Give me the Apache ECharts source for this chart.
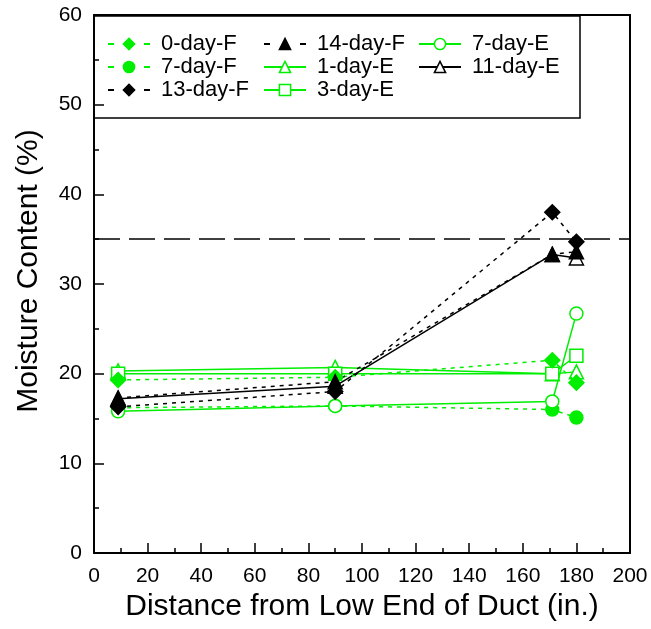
<!DOCTYPE html>
<html>
<head>
<meta charset="utf-8">
<script src="https://cdn.jsdelivr.net/npm/echarts@6/dist/echarts.min.js"></script>
<style>
  html, body { margin: 0; padding: 0; background: #fff; }
  #chart { width: 651px; height: 629px; }
</style>
</head>
<body>
<div id="chart"></div>
<script>
// Sampling positions along the duct (in.)
const distances = [9, 90, 171, 180];

// Moisture content (%) at each position
const day0F  = [19.3, 19.6, 21.5, 19.0];
const day7F  = [16.2, 16.4, 16.0, 15.1];
const day13F = [16.3, 18.0, 38.0, 34.7];
const day14F = [17.3, 19.1, 33.3, 33.6];
const day1E  = [20.3, 20.7, 20.0, 20.2];
const day3E  = [20.0, 20.0, 20.0, 22.0];
const day7E  = [15.8, 16.4, 16.9, 26.7];
const day11E = [17.2, 18.6, 33.3, 32.9];

const thresholdValue = 35;

const GREEN = '#00ee00';
const BLACK = '#000000';
const FONT = 'Liberation Sans, Arial, sans-serif';

function pairs(values) {
  return distances.map((d, i) => [d, values[i]]);
}

function makeSeries(name, values, color, symbol, filled, dashed, size, z) {
  return {
    name: name,
    type: 'line',
    data: pairs(values),
    symbol: symbol,
    symbolSize: size,
    showAllSymbol: true,
    z: z,
    lineStyle: { color: color, width: 1.5, type: dashed ? [4, 5] : 'solid' },
    itemStyle: {
      color: filled ? color : '#ffffff',
      borderColor: color,
      borderWidth: 1.5,
      opacity: 1
    },
    emphasis: { disabled: true },
    animation: false
  };
}

const series = [
  makeSeries('0-day-F', day0F, GREEN, 'diamond', true, true, 15, 4),
  makeSeries('7-day-F', day7F, GREEN, 'circle', true, true, 13, 3),
  makeSeries('13-day-F', day13F, BLACK, 'diamond', true, true, 15, 4),
  makeSeries('14-day-F', day14F, BLACK, 'triangle', true, true, 14, 4),
  makeSeries('1-day-E', day1E, GREEN, 'triangle', false, false, 14, 3),
  makeSeries('3-day-E', day3E, GREEN, 'rect', false, false, 13, 3),
  makeSeries('7-day-E', day7E, GREEN, 'circle', false, false, 13, 3),
  makeSeries('11-day-E', day11E, BLACK, 'triangle', false, false, 14, 3)
];

// Long-dash reference level
series.push({
  name: 'threshold',
  type: 'line',
  data: [],
  silent: true,
  animation: false,
  markLine: {
    silent: true,
    symbol: ['none', 'none'],
    label: { show: false },
    lineStyle: { color: BLACK, width: 1.5, type: [26, 9] },
    data: [{ yAxis: thresholdValue }]
  }
});

// Field (F) entries show a short dash either side of the marker in the key
function legendEntry(name) {
  const dashed = /-F$/.test(name);
  return dashed ? { name: name, lineStyle: { type: [6, 30] } } : { name: name };
}

function legendBlock(names, left) {
  return {
    data: names.map(legendEntry),
    orient: 'vertical',
    left: left,
    top: 28,
    itemWidth: 42,
    itemHeight: 14,
    itemGap: 1,
    itemStyle: { borderWidth: 1.5 },
    selectedMode: false,
    textStyle: { fontFamily: FONT, fontSize: 22, color: BLACK, padding: [0, 0, 0, 6] }
  };
}

const chart = echarts.init(document.getElementById('chart'), null, { renderer: 'canvas' });
chart.setOption({
  backgroundColor: '#ffffff',
  animation: false,
  grid: { left: 94, right: 21, top: 15, bottom: 76, containLabel: false },
  xAxis: {
    type: 'value',
    min: 0, max: 200, interval: 20,
    name: 'Distance from Low End of Duct (in.)',
    nameLocation: 'middle',
    nameGap: 37,
    nameTextStyle: { fontFamily: FONT, fontSize: 30, color: BLACK },
    axisLine: { show: true, lineStyle: { color: BLACK, width: 2 } },
    axisTick: { show: true, inside: true, length: 10, lineStyle: { color: BLACK, width: 1.5 } },
    minorTick: { show: true, splitNumber: 2, length: 5, lineStyle: { color: BLACK, width: 1.5 } },
    axisLabel: { fontFamily: FONT, fontSize: 21, color: BLACK, margin: 13 },
    splitLine: { show: false }
  },
  yAxis: {
    type: 'value',
    min: 0, max: 60, interval: 10,
    name: 'Moisture Content (%)',
    nameLocation: 'middle',
    nameGap: 50,
    nameTextStyle: { fontFamily: FONT, fontSize: 30, color: BLACK, padding: [0, 0, 0, 26] },
    axisLine: { show: true, lineStyle: { color: BLACK, width: 2 } },
    axisTick: { show: true, inside: true, length: 10, lineStyle: { color: BLACK, width: 1.5 } },
    minorTick: { show: true, splitNumber: 2, length: 5, lineStyle: { color: BLACK, width: 1.5 } },
    axisLabel: { fontFamily: FONT, fontSize: 21, color: BLACK, margin: 12 },
    splitLine: { show: false }
  },
  legend: [
    legendBlock(['0-day-F', '7-day-F', '13-day-F'], 102),
    legendBlock(['14-day-F', '1-day-E', '3-day-E'], 258),
    legendBlock(['7-day-E', '11-day-E'], 413)
  ],
  graphic: [
    // outer frame of the plotting area (top and right edges)
    {
      type: 'rect',
      shape: { x: 94, y: 15, width: 536, height: 538 },
      style: { fill: 'none', stroke: BLACK, lineWidth: 2 },
      silent: true, z: 10
    },
    // legend box
    {
      type: 'rect',
      shape: { x: 94, y: 16, width: 486, height: 102 },
      style: { fill: 'none', stroke: BLACK, lineWidth: 1.5 },
      silent: true, z: 10
    }
  ],
  series: series
});
</script>
</body>
</html>
